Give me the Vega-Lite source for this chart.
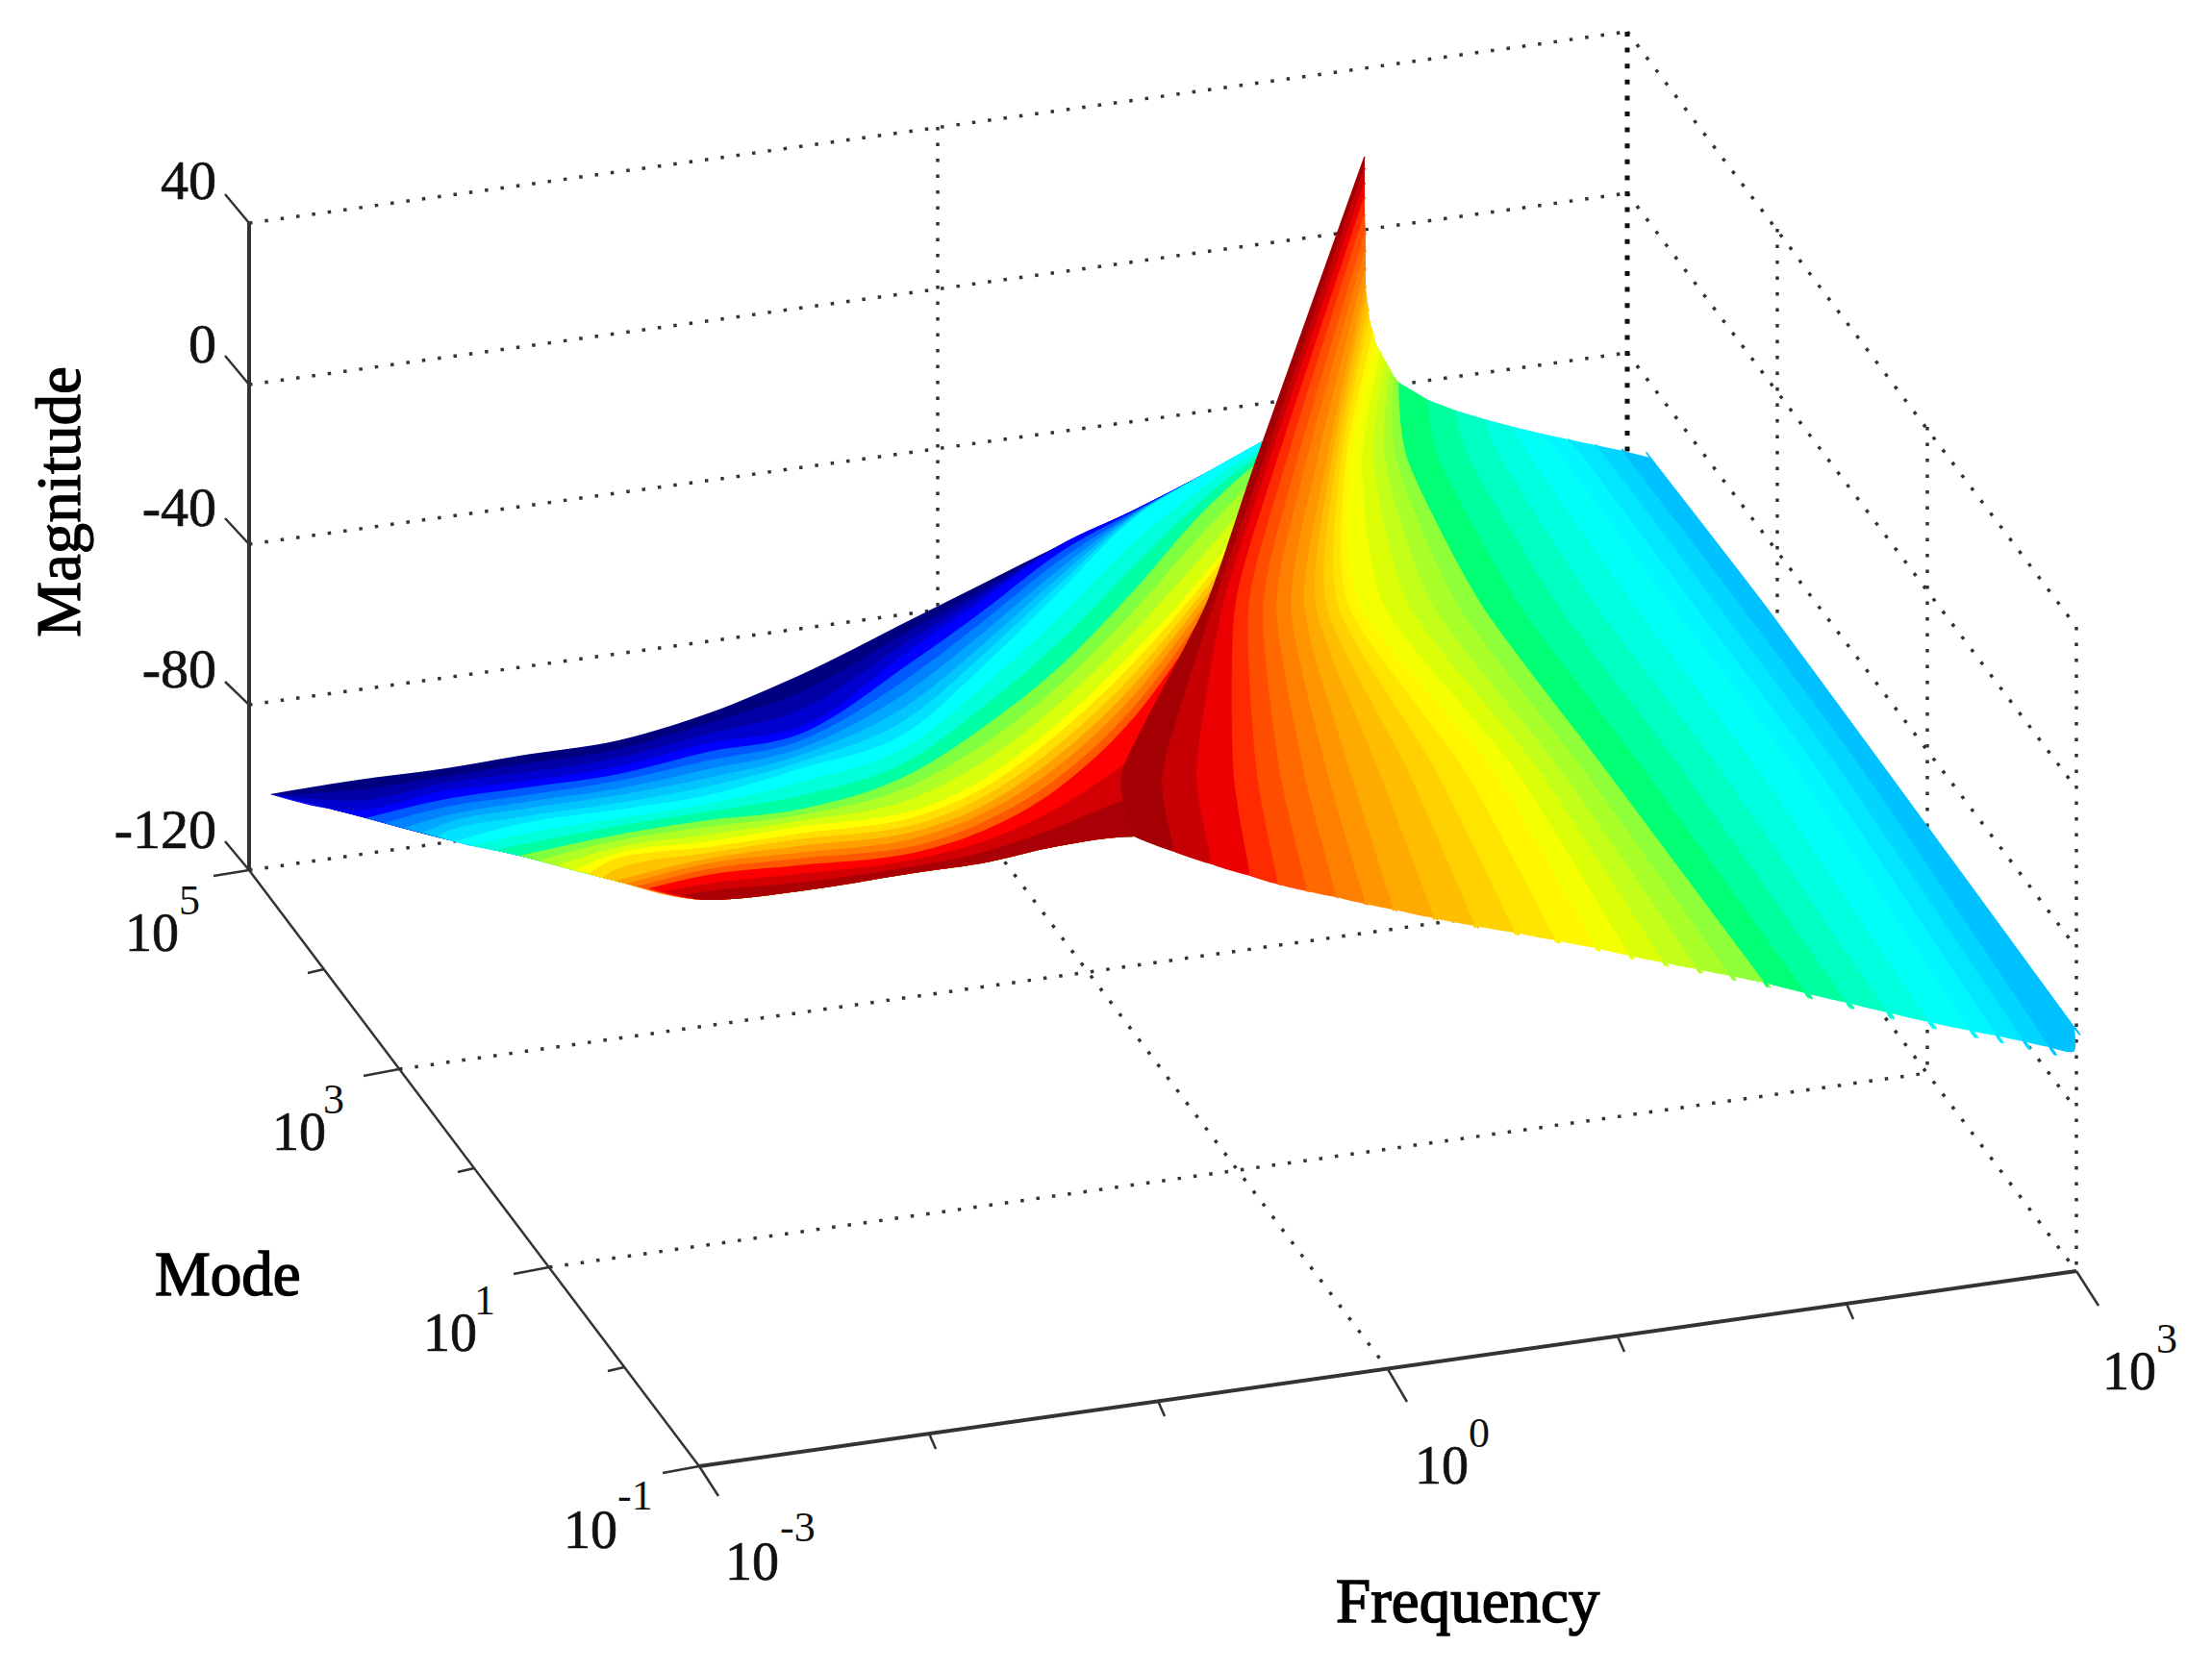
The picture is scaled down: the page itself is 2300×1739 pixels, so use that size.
{
"$schema":"https://vega.github.io/schema/vega-lite/v6.json",
"width":2300,"height":1739,"padding":0,
"autosize":{"type":"fit","contains":"padding"},
"background":"white",
"config":{"view":{"stroke":null}},
"datasets":{
"dotted":[
{"x":259,"y":232,"x2":1692,"y2":33},{"x":259,"y":400,"x2":1692,"y2":201},{"x":259,"y":566,"x2":1692,"y2":367},{"x":259,"y":733,"x2":1692,"y2":535},{"x":259,"y":905,"x2":1692,"y2":703},
{"x":1692,"y":33,"x2":2159,"y2":652},{"x":1692,"y":201,"x2":2159,"y2":820},{"x":1692,"y":367,"x2":2159,"y2":986},{"x":1692,"y":535,"x2":2159,"y2":1154},{"x":1692,"y":703,"x2":2159,"y2":1322},
{"x":975,"y":132,"x2":975,"y2":804},{"x":1848,"y":238,"x2":1848,"y2":910},{"x":2004,"y":444,"x2":2004,"y2":1116},{"x":2159,"y":652,"x2":2159,"y2":1322},
{"x":415,"y":1112,"x2":1848,"y2":910},{"x":571,"y":1318,"x2":2004,"y2":1116},{"x":975,"y":804,"x2":1443,"y2":1424}
],
"backEdge":[{"x":1692,"y":33,"x2":1692,"y2":703}],
"heavyAxes":[{"x":259,"y":232,"x2":259,"y2":905},{"x":727,"y":1525,"x2":2159,"y2":1322}],
"thinAxes":[{"x":259,"y":905,"x2":727,"y2":1525},
{"x":259,"y":232,"x2":234,"y2":202},{"x":259,"y":400,"x2":234,"y2":370},{"x":259,"y":566,"x2":234,"y2":539},{"x":259,"y":733,"x2":234,"y2":709},{"x":259,"y":905,"x2":234,"y2":875},
{"x":259,"y":905,"x2":222,"y2":911},{"x":415,"y":1112,"x2":378,"y2":1119},{"x":571,"y":1318,"x2":534,"y2":1325},{"x":727,"y":1525,"x2":689,"y2":1532},
{"x":337,"y":1008,"x2":320,"y2":1012},{"x":493,"y":1215,"x2":476,"y2":1219},{"x":649,"y":1422,"x2":632,"y2":1426},
{"x":727,"y":1525,"x2":747,"y2":1556},{"x":1443,"y":1424,"x2":1463,"y2":1458},{"x":2159,"y":1322,"x2":2182,"y2":1358},
{"x":966,"y":1491,"x2":973,"y2":1507},{"x":1204,"y":1457,"x2":1211,"y2":1473},{"x":1682,"y":1390,"x2":1689,"y2":1406},{"x":1920,"y":1356,"x2":1927,"y2":1372}
],
"magnitudeTicks":[{"label":"40","x":225,"y":190},{"label":"0","x":225,"y":360},{"label":"-40","x":225,"y":530},{"label":"-80","x":225,"y":698},{"label":"-120","x":225,"y":865}],
"bases":[{"label":"10","x":130,"y":989},{"label":"10","x":283,"y":1196},{"label":"10","x":440,"y":1405},{"label":"10","x":586,"y":1610},{"label":"10","x":754,"y":1643},{"label":"10","x":1471,"y":1543},{"label":"10","x":2186,"y":1445}],
"exponents":[{"label":"5","x":186,"y":951},{"label":"3","x":336,"y":1158},{"label":"1","x":493,"y":1367},{"label":"-1","x":642,"y":1570},{"label":"-3","x":811,"y":1603},{"label":"0","x":1527,"y":1505},{"label":"3","x":2242,"y":1407}],
"titles":[{"label":"Mode","x":161,"y":1347},{"label":"Frequency","x":1389,"y":1687}],
"sideTitle":[{"label":"Magnitude","x":83,"y":522}],
"wing":[
{"level":0,"x":281,"y":826,"y2":826},{"level":0,"x":366,"y":812,"y2":847},{"level":0,"x":464,"y":799,"y2":873},{"level":0,"x":540,"y":786,"y2":890},{"level":0,"x":643,"y":770,"y2":917},{"level":0,"x":736,"y":742,"y2":936},{"level":0,"x":830,"y":703,"y2":927},{"level":0,"x":950,"y":643,"y2":908},{"level":0,"x":1020,"y":608,"y2":898},{"level":0,"x":1100,"y":568,"y2":880},{"level":0,"x":1180,"y":530,"y2":870},{"level":0,"x":1250,"y":494,"y2":890},{"level":0,"x":1320,"y":455,"y2":905},
{"level":0.04,"x":281,"y":826,"y2":826},{"level":0.04,"x":366,"y":822,"y2":847},{"level":0.04,"x":464,"y":807,"y2":873},{"level":0.04,"x":540,"y":795,"y2":890},{"level":0.04,"x":643,"y":779,"y2":917},{"level":0.04,"x":736,"y":752,"y2":936},{"level":0.04,"x":830,"y":721,"y2":927},{"level":0.04,"x":950,"y":653,"y2":908},{"level":0.04,"x":1020,"y":614,"y2":898},{"level":0.04,"x":1100,"y":568,"y2":880},{"level":0.04,"x":1180,"y":530,"y2":870},{"level":0.04,"x":1250,"y":494,"y2":890},{"level":0.04,"x":1320,"y":455,"y2":905},
{"level":0.08,"x":281,"y":826,"y2":826},{"level":0.08,"x":366,"y":833,"y2":847},{"level":0.08,"x":464,"y":814,"y2":873},{"level":0.08,"x":540,"y":804,"y2":890},{"level":0.08,"x":643,"y":788,"y2":917},{"level":0.08,"x":736,"y":763,"y2":936},{"level":0.08,"x":830,"y":739,"y2":927},{"level":0.08,"x":950,"y":663,"y2":908},{"level":0.08,"x":1020,"y":619,"y2":898},{"level":0.08,"x":1100,"y":568,"y2":880},{"level":0.08,"x":1180,"y":530,"y2":870},{"level":0.08,"x":1250,"y":494,"y2":890},{"level":0.08,"x":1320,"y":455,"y2":905},
{"level":0.125,"x":281,"y":826,"y2":826},{"level":0.125,"x":366,"y":843,"y2":847},{"level":0.125,"x":464,"y":822,"y2":873},{"level":0.125,"x":540,"y":813,"y2":890},{"level":0.125,"x":643,"y":797,"y2":917},{"level":0.125,"x":736,"y":773,"y2":936},{"level":0.125,"x":830,"y":757,"y2":927},{"level":0.125,"x":950,"y":673,"y2":908},{"level":0.125,"x":1020,"y":625,"y2":898},{"level":0.125,"x":1100,"y":568,"y2":880},{"level":0.125,"x":1180,"y":530,"y2":870},{"level":0.125,"x":1250,"y":494,"y2":890},{"level":0.125,"x":1320,"y":455,"y2":905},
{"level":0.167,"x":380,"y":851,"y2":851},{"level":0.167,"x":464,"y":831,"y2":873},{"level":0.167,"x":540,"y":820,"y2":890},{"level":0.167,"x":643,"y":805,"y2":917},{"level":0.167,"x":736,"y":782,"y2":936},{"level":0.167,"x":830,"y":764,"y2":927},{"level":0.167,"x":950,"y":687,"y2":908},{"level":0.167,"x":1020,"y":637,"y2":898},{"level":0.167,"x":1100,"y":576,"y2":880},{"level":0.167,"x":1180,"y":531,"y2":870},{"level":0.167,"x":1250,"y":494,"y2":890},{"level":0.167,"x":1320,"y":455,"y2":905},
{"level":0.208,"x":400,"y":856,"y2":856},{"level":0.208,"x":464,"y":839,"y2":873},{"level":0.208,"x":540,"y":828,"y2":890},{"level":0.208,"x":643,"y":812,"y2":917},{"level":0.208,"x":736,"y":791,"y2":936},{"level":0.208,"x":830,"y":771,"y2":927},{"level":0.208,"x":950,"y":701,"y2":908},{"level":0.208,"x":1020,"y":648,"y2":898},{"level":0.208,"x":1100,"y":584,"y2":880},{"level":0.208,"x":1180,"y":533,"y2":870},{"level":0.208,"x":1250,"y":494,"y2":890},{"level":0.208,"x":1320,"y":455,"y2":905},
{"level":0.25,"x":420,"y":861,"y2":861},{"level":0.25,"x":464,"y":848,"y2":873},{"level":0.25,"x":540,"y":835,"y2":890},{"level":0.25,"x":643,"y":820,"y2":917},{"level":0.25,"x":736,"y":800,"y2":936},{"level":0.25,"x":830,"y":779,"y2":927},{"level":0.25,"x":950,"y":715,"y2":908},{"level":0.25,"x":1020,"y":660,"y2":898},{"level":0.25,"x":1100,"y":593,"y2":880},{"level":0.25,"x":1180,"y":534,"y2":870},{"level":0.25,"x":1250,"y":494,"y2":890},{"level":0.25,"x":1320,"y":455,"y2":905},
{"level":0.29,"x":440,"y":866,"y2":866},{"level":0.29,"x":464,"y":856,"y2":873},{"level":0.29,"x":540,"y":842,"y2":890},{"level":0.29,"x":643,"y":827,"y2":917},{"level":0.29,"x":736,"y":809,"y2":936},{"level":0.29,"x":830,"y":786,"y2":927},{"level":0.29,"x":950,"y":729,"y2":908},{"level":0.29,"x":1020,"y":672,"y2":898},{"level":0.29,"x":1100,"y":601,"y2":880},{"level":0.29,"x":1180,"y":535,"y2":870},{"level":0.29,"x":1250,"y":494,"y2":890},{"level":0.29,"x":1320,"y":455,"y2":905},
{"level":0.33,"x":455,"y":870,"y2":870},{"level":0.33,"x":464,"y":865,"y2":873},{"level":0.33,"x":540,"y":850,"y2":890},{"level":0.33,"x":643,"y":835,"y2":917},{"level":0.33,"x":736,"y":818,"y2":936},{"level":0.33,"x":830,"y":793,"y2":927},{"level":0.33,"x":950,"y":743,"y2":908},{"level":0.33,"x":1020,"y":683,"y2":898},{"level":0.33,"x":1100,"y":609,"y2":880},{"level":0.33,"x":1180,"y":537,"y2":870},{"level":0.33,"x":1250,"y":494,"y2":890},{"level":0.33,"x":1320,"y":455,"y2":905},
{"level":0.375,"x":473,"y":875,"y2":875},{"level":0.375,"x":540,"y":857,"y2":890},{"level":0.375,"x":643,"y":842,"y2":917},{"level":0.375,"x":736,"y":827,"y2":936},{"level":0.375,"x":830,"y":800,"y2":927},{"level":0.375,"x":950,"y":757,"y2":908},{"level":0.375,"x":1020,"y":695,"y2":898},{"level":0.375,"x":1100,"y":617,"y2":880},{"level":0.375,"x":1180,"y":538,"y2":870},{"level":0.375,"x":1250,"y":494,"y2":890},{"level":0.375,"x":1320,"y":455,"y2":905},
{"level":0.417,"x":490,"y":879,"y2":879},{"level":0.417,"x":540,"y":868,"y2":890},{"level":0.417,"x":643,"y":851,"y2":917},{"level":0.417,"x":736,"y":836,"y2":936},{"level":0.417,"x":830,"y":814,"y2":927},{"level":0.417,"x":950,"y":772,"y2":908},{"level":0.417,"x":1020,"y":716,"y2":898},{"level":0.417,"x":1100,"y":643,"y2":880},{"level":0.417,"x":1180,"y":563,"y2":870},{"level":0.417,"x":1250,"y":507,"y2":890},{"level":0.417,"x":1320,"y":460,"y2":905},
{"level":0.458,"x":515,"y":884,"y2":884},{"level":0.458,"x":540,"y":879,"y2":890},{"level":0.458,"x":643,"y":859,"y2":917},{"level":0.458,"x":736,"y":844,"y2":936},{"level":0.458,"x":830,"y":828,"y2":927},{"level":0.458,"x":950,"y":788,"y2":908},{"level":0.458,"x":1020,"y":737,"y2":898},{"level":0.458,"x":1100,"y":669,"y2":880},{"level":0.458,"x":1180,"y":588,"y2":870},{"level":0.458,"x":1250,"y":520,"y2":890},{"level":0.458,"x":1320,"y":465,"y2":905},
{"level":0.5,"x":540,"y":890,"y2":890},{"level":0.5,"x":643,"y":868,"y2":917},{"level":0.5,"x":736,"y":853,"y2":936},{"level":0.5,"x":830,"y":842,"y2":927},{"level":0.5,"x":950,"y":803,"y2":908},{"level":0.5,"x":1020,"y":758,"y2":898},{"level":0.5,"x":1100,"y":695,"y2":880},{"level":0.5,"x":1180,"y":613,"y2":870},{"level":0.5,"x":1250,"y":533,"y2":890},{"level":0.5,"x":1320,"y":470,"y2":905},
{"level":0.542,"x":560,"y":895,"y2":895},{"level":0.542,"x":643,"y":874,"y2":917},{"level":0.542,"x":736,"y":860,"y2":936},{"level":0.542,"x":830,"y":848,"y2":927},{"level":0.542,"x":950,"y":816,"y2":908},{"level":0.542,"x":1020,"y":776,"y2":898},{"level":0.542,"x":1100,"y":714,"y2":880},{"level":0.542,"x":1180,"y":634,"y2":870},{"level":0.542,"x":1250,"y":555,"y2":890},{"level":0.542,"x":1320,"y":483,"y2":905},
{"level":0.583,"x":579,"y":900,"y2":900},{"level":0.583,"x":643,"y":881,"y2":917},{"level":0.583,"x":736,"y":868,"y2":936},{"level":0.583,"x":830,"y":854,"y2":927},{"level":0.583,"x":950,"y":830,"y2":908},{"level":0.583,"x":1020,"y":794,"y2":898},{"level":0.583,"x":1100,"y":733,"y2":880},{"level":0.583,"x":1180,"y":656,"y2":870},{"level":0.583,"x":1250,"y":578,"y2":890},{"level":0.583,"x":1320,"y":497,"y2":905},
{"level":0.625,"x":598,"y":905,"y2":905},{"level":0.625,"x":643,"y":887,"y2":917},{"level":0.625,"x":736,"y":875,"y2":936},{"level":0.625,"x":830,"y":860,"y2":927},{"level":0.625,"x":950,"y":843,"y2":908},{"level":0.625,"x":1020,"y":812,"y2":898},{"level":0.625,"x":1100,"y":752,"y2":880},{"level":0.625,"x":1180,"y":677,"y2":870},{"level":0.625,"x":1250,"y":600,"y2":890},{"level":0.625,"x":1320,"y":510,"y2":905},
{"level":0.667,"x":612,"y":909,"y2":909},{"level":0.667,"x":643,"y":892,"y2":917},{"level":0.667,"x":736,"y":881,"y2":936},{"level":0.667,"x":830,"y":867,"y2":927},{"level":0.667,"x":950,"y":850,"y2":908},{"level":0.667,"x":1020,"y":821,"y2":898},{"level":0.667,"x":1100,"y":763,"y2":880},{"level":0.667,"x":1180,"y":688,"y2":870},{"level":0.667,"x":1250,"y":608,"y2":890},{"level":0.667,"x":1320,"y":518,"y2":905},
{"level":0.708,"x":626,"y":913,"y2":913},{"level":0.708,"x":643,"y":903,"y2":917},{"level":0.708,"x":736,"y":887,"y2":936},{"level":0.708,"x":830,"y":873,"y2":927},{"level":0.708,"x":950,"y":858,"y2":908},{"level":0.708,"x":1020,"y":830,"y2":898},{"level":0.708,"x":1100,"y":775,"y2":880},{"level":0.708,"x":1180,"y":700,"y2":870},{"level":0.708,"x":1250,"y":617,"y2":890},{"level":0.708,"x":1320,"y":527,"y2":905},
{"level":0.75,"x":640,"y":916,"y2":916},{"level":0.75,"x":736,"y":893,"y2":936},{"level":0.75,"x":830,"y":880,"y2":927},{"level":0.75,"x":950,"y":865,"y2":908},{"level":0.75,"x":1020,"y":839,"y2":898},{"level":0.75,"x":1100,"y":786,"y2":880},{"level":0.75,"x":1180,"y":711,"y2":870},{"level":0.75,"x":1250,"y":625,"y2":890},{"level":0.75,"x":1320,"y":535,"y2":905},
{"level":0.79,"x":652,"y":919,"y2":919},{"level":0.79,"x":736,"y":898,"y2":936},{"level":0.79,"x":830,"y":887,"y2":927},{"level":0.79,"x":950,"y":872,"y2":908},{"level":0.79,"x":1020,"y":847,"y2":898},{"level":0.79,"x":1100,"y":797,"y2":880},{"level":0.79,"x":1180,"y":722,"y2":870},{"level":0.79,"x":1250,"y":633,"y2":890},{"level":0.79,"x":1320,"y":543,"y2":905},
{"level":0.83,"x":663,"y":922,"y2":922},{"level":0.83,"x":736,"y":904,"y2":936},{"level":0.83,"x":830,"y":893,"y2":927},{"level":0.83,"x":950,"y":880,"y2":908},{"level":0.83,"x":1020,"y":856,"y2":898},{"level":0.83,"x":1100,"y":809,"y2":880},{"level":0.83,"x":1180,"y":734,"y2":870},{"level":0.83,"x":1250,"y":642,"y2":890},{"level":0.83,"x":1320,"y":552,"y2":905},
{"level":0.875,"x":674,"y":924,"y2":924},{"level":0.875,"x":736,"y":910,"y2":936},{"level":0.875,"x":830,"y":900,"y2":927},{"level":0.875,"x":950,"y":887,"y2":908},{"level":0.875,"x":1020,"y":865,"y2":898},{"level":0.875,"x":1100,"y":820,"y2":880},{"level":0.875,"x":1180,"y":745,"y2":870},{"level":0.875,"x":1250,"y":650,"y2":890},{"level":0.875,"x":1320,"y":560,"y2":905},
{"level":0.917,"x":690,"y":927,"y2":927},{"level":0.917,"x":736,"y":919,"y2":936},{"level":0.917,"x":830,"y":909,"y2":927},{"level":0.917,"x":950,"y":894,"y2":908},{"level":0.917,"x":1020,"y":876,"y2":898},{"level":0.917,"x":1100,"y":840,"y2":880},{"level":0.917,"x":1180,"y":787,"y2":870},{"level":0.917,"x":1250,"y":730,"y2":890},{"level":0.917,"x":1320,"y":675,"y2":905},
{"level":0.958,"x":710,"y":931,"y2":931},{"level":0.958,"x":736,"y":927,"y2":936},{"level":0.958,"x":830,"y":918,"y2":927},{"level":0.958,"x":950,"y":901,"y2":908},{"level":0.958,"x":1020,"y":887,"y2":898},{"level":0.958,"x":1100,"y":860,"y2":880},{"level":0.958,"x":1180,"y":828,"y2":870},{"level":0.958,"x":1250,"y":810,"y2":890},{"level":0.958,"x":1320,"y":790,"y2":905}
],
"ridge":[
{"level":0.9625,"ord":0,"x":1419,"y":163},{"level":0.9625,"ord":1,"x":1306,"y":480},{"level":0.9625,"ord":2,"x":1254,"y":630},{"level":0.9625,"ord":3,"x":1168,"y":800},{"level":0.9625,"ord":3.5,"x":1180,"y":862},{"level":0.9625,"ord":4,"x":1181,"y":870},{"level":0.9625,"ord":5,"x":1221,"y":885},{"level":0.9625,"ord":5.5,"x":1220,"y":877},{"level":0.9625,"ord":6,"x":1210,"y":800},{"level":0.9625,"ord":7,"x":1262,"y":630},{"level":0.9625,"ord":8,"x":1314,"y":480},{"level":0.9625,"ord":9,"x":1419,"y":175},
{"level":0.9275,"ord":0,"x":1419,"y":175},{"level":0.9275,"ord":1,"x":1314,"y":480},{"level":0.9275,"ord":2,"x":1262,"y":630},{"level":0.9275,"ord":3,"x":1210,"y":800},{"level":0.9275,"ord":3.5,"x":1220,"y":877},{"level":0.9275,"ord":4,"x":1221,"y":885},{"level":0.9275,"ord":5,"x":1260,"y":898},{"level":0.9275,"ord":5.5,"x":1259,"y":890},{"level":0.9275,"ord":6,"x":1245,"y":800},{"level":0.9275,"ord":7,"x":1272,"y":630},{"level":0.9275,"ord":8,"x":1320,"y":480},{"level":0.9275,"ord":9,"x":1419,"y":190},
{"level":0.8925,"ord":0,"x":1419,"y":190},{"level":0.8925,"ord":1,"x":1320,"y":480},{"level":0.8925,"ord":2,"x":1272,"y":630},{"level":0.8925,"ord":3,"x":1245,"y":800},{"level":0.8925,"ord":3.5,"x":1259,"y":890},{"level":0.8925,"ord":4,"x":1260,"y":898},{"level":0.8925,"ord":5,"x":1300,"y":910},{"level":0.8925,"ord":5.5,"x":1299,"y":902},{"level":0.8925,"ord":6,"x":1283,"y":800},{"level":0.8925,"ord":7,"x":1285,"y":630},{"level":0.8925,"ord":8,"x":1328,"y":480},{"level":0.8925,"ord":9,"x":1419,"y":205},
{"level":0.8625,"ord":0,"x":1419,"y":205},{"level":0.8625,"ord":1,"x":1328,"y":480},{"level":0.8625,"ord":2,"x":1285,"y":630},{"level":0.8625,"ord":3,"x":1283,"y":800},{"level":0.8625,"ord":3.5,"x":1299,"y":902},{"level":0.8625,"ord":4,"x":1300,"y":910},{"level":0.8625,"ord":5,"x":1330,"y":919},{"level":0.8625,"ord":5.5,"x":1328,"y":911},{"level":0.8625,"ord":6,"x":1307,"y":800},{"level":0.8625,"ord":7,"x":1299,"y":630},{"level":0.8625,"ord":8,"x":1338,"y":480},{"level":0.8625,"ord":9,"x":1419,"y":223},
{"level":0.8375,"ord":0,"x":1419,"y":223},{"level":0.8375,"ord":1,"x":1338,"y":480},{"level":0.8375,"ord":2,"x":1299,"y":630},{"level":0.8375,"ord":3,"x":1307,"y":800},{"level":0.8375,"ord":3.5,"x":1328,"y":911},{"level":0.8375,"ord":4,"x":1330,"y":919},{"level":0.8375,"ord":5,"x":1360,"y":926},{"level":0.8375,"ord":5.5,"x":1358,"y":918},{"level":0.8375,"ord":6,"x":1331,"y":800},{"level":0.8375,"ord":7,"x":1314,"y":630},{"level":0.8375,"ord":8,"x":1349,"y":480},{"level":0.8375,"ord":9,"x":1420,"y":242},
{"level":0.8125,"ord":0,"x":1420,"y":242},{"level":0.8125,"ord":1,"x":1349,"y":480},{"level":0.8125,"ord":2,"x":1314,"y":630},{"level":0.8125,"ord":3,"x":1331,"y":800},{"level":0.8125,"ord":3.5,"x":1358,"y":918},{"level":0.8125,"ord":4,"x":1360,"y":926},{"level":0.8125,"ord":5,"x":1390,"y":932},{"level":0.8125,"ord":5.5,"x":1388,"y":924},{"level":0.8125,"ord":6,"x":1356,"y":800},{"level":0.8125,"ord":7,"x":1328,"y":630},{"level":0.8125,"ord":8,"x":1359,"y":480},{"level":0.8125,"ord":9,"x":1420,"y":260},
{"level":0.7875,"ord":0,"x":1420,"y":260},{"level":0.7875,"ord":1,"x":1359,"y":480},{"level":0.7875,"ord":2,"x":1328,"y":630},{"level":0.7875,"ord":3,"x":1356,"y":800},{"level":0.7875,"ord":3.5,"x":1388,"y":924},{"level":0.7875,"ord":4,"x":1390,"y":932},{"level":0.7875,"ord":5,"x":1420,"y":939},{"level":0.7875,"ord":5.5,"x":1418,"y":931},{"level":0.7875,"ord":6,"x":1380,"y":800},{"level":0.7875,"ord":7,"x":1343,"y":630},{"level":0.7875,"ord":8,"x":1370,"y":480},{"level":0.7875,"ord":9,"x":1420,"y":279},
{"level":0.7625,"ord":0,"x":1420,"y":279},{"level":0.7625,"ord":1,"x":1370,"y":480},{"level":0.7625,"ord":2,"x":1343,"y":630},{"level":0.7625,"ord":3,"x":1380,"y":800},{"level":0.7625,"ord":3.5,"x":1418,"y":931},{"level":0.7625,"ord":4,"x":1420,"y":939},{"level":0.7625,"ord":5,"x":1450,"y":945},{"level":0.7625,"ord":5.5,"x":1447,"y":937},{"level":0.7625,"ord":6,"x":1404,"y":800},{"level":0.7625,"ord":7,"x":1357,"y":630},{"level":0.7625,"ord":8,"x":1380,"y":480},{"level":0.7625,"ord":9,"x":1420,"y":297},
{"level":0.7375,"ord":0,"x":1420,"y":297},{"level":0.7375,"ord":1,"x":1380,"y":480},{"level":0.7375,"ord":2,"x":1357,"y":630},{"level":0.7375,"ord":3,"x":1404,"y":800},{"level":0.7375,"ord":3.5,"x":1447,"y":937},{"level":0.7375,"ord":4,"x":1450,"y":945},{"level":0.7375,"ord":5,"x":1492,"y":954},{"level":0.7375,"ord":5.5,"x":1489,"y":946},{"level":0.7375,"ord":6,"x":1434,"y":800},{"level":0.7375,"ord":7,"x":1369,"y":630},{"level":0.7375,"ord":8,"x":1385,"y":480},{"level":0.7375,"ord":9,"x":1421,"y":309},
{"level":0.7125,"ord":0,"x":1421,"y":309},{"level":0.7125,"ord":1,"x":1385,"y":480},{"level":0.7125,"ord":2,"x":1369,"y":630},{"level":0.7125,"ord":3,"x":1434,"y":800},{"level":0.7125,"ord":3.5,"x":1489,"y":946},{"level":0.7125,"ord":4,"x":1492,"y":954},{"level":0.7125,"ord":5,"x":1534,"y":962},{"level":0.7125,"ord":5.5,"x":1531,"y":954},{"level":0.7125,"ord":6,"x":1464,"y":800},{"level":0.7125,"ord":7,"x":1380,"y":630},{"level":0.7125,"ord":8,"x":1390,"y":480},{"level":0.7125,"ord":9,"x":1423,"y":321},
{"level":0.6875,"ord":0,"x":1423,"y":321},{"level":0.6875,"ord":1,"x":1390,"y":480},{"level":0.6875,"ord":2,"x":1380,"y":630},{"level":0.6875,"ord":3,"x":1464,"y":800},{"level":0.6875,"ord":3.5,"x":1531,"y":954},{"level":0.6875,"ord":4,"x":1534,"y":962},{"level":0.6875,"ord":5,"x":1576,"y":969},{"level":0.6875,"ord":5.5,"x":1572,"y":961},{"level":0.6875,"ord":6,"x":1493,"y":800},{"level":0.6875,"ord":7,"x":1392,"y":630},{"level":0.6875,"ord":8,"x":1395,"y":480},{"level":0.6875,"ord":9,"x":1424,"y":333},
{"level":0.6625,"ord":0,"x":1424,"y":333},{"level":0.6625,"ord":1,"x":1395,"y":480},{"level":0.6625,"ord":2,"x":1392,"y":630},{"level":0.6625,"ord":3,"x":1493,"y":800},{"level":0.6625,"ord":3.5,"x":1572,"y":961},{"level":0.6625,"ord":4,"x":1576,"y":969},{"level":0.6625,"ord":5,"x":1618,"y":977},{"level":0.6625,"ord":5.5,"x":1614,"y":969},{"level":0.6625,"ord":6,"x":1523,"y":800},{"level":0.6625,"ord":7,"x":1403,"y":630},{"level":0.6625,"ord":8,"x":1400,"y":480},{"level":0.6625,"ord":9,"x":1428,"y":346},
{"level":0.6375,"ord":0,"x":1428,"y":346},{"level":0.6375,"ord":1,"x":1400,"y":480},{"level":0.6375,"ord":2,"x":1403,"y":630},{"level":0.6375,"ord":3,"x":1523,"y":800},{"level":0.6375,"ord":3.5,"x":1614,"y":969},{"level":0.6375,"ord":4,"x":1618,"y":977},{"level":0.6375,"ord":5,"x":1660,"y":985},{"level":0.6375,"ord":5.5,"x":1655,"y":977},{"level":0.6375,"ord":6,"x":1553,"y":800},{"level":0.6375,"ord":7,"x":1415,"y":630},{"level":0.6375,"ord":8,"x":1405,"y":480},{"level":0.6375,"ord":9,"x":1431,"y":358},
{"level":0.6125,"ord":0,"x":1431,"y":358},{"level":0.6125,"ord":1,"x":1405,"y":480},{"level":0.6125,"ord":2,"x":1415,"y":630},{"level":0.6125,"ord":3,"x":1553,"y":800},{"level":0.6125,"ord":3.5,"x":1655,"y":977},{"level":0.6125,"ord":4,"x":1660,"y":985},{"level":0.6125,"ord":5,"x":1695,"y":993},{"level":0.6125,"ord":5.5,"x":1690,"y":985},{"level":0.6125,"ord":6,"x":1576,"y":800},{"level":0.6125,"ord":7,"x":1440,"y":630},{"level":0.6125,"ord":8,"x":1417,"y":480},{"level":0.6125,"ord":9,"x":1436,"y":367},
{"level":0.5875,"ord":0,"x":1436,"y":367},{"level":0.5875,"ord":1,"x":1417,"y":480},{"level":0.5875,"ord":2,"x":1440,"y":630},{"level":0.5875,"ord":3,"x":1576,"y":800},{"level":0.5875,"ord":3.5,"x":1690,"y":985},{"level":0.5875,"ord":4,"x":1695,"y":993},{"level":0.5875,"ord":5,"x":1730,"y":1000},{"level":0.5875,"ord":5.5,"x":1725,"y":992},{"level":0.5875,"ord":6,"x":1600,"y":800},{"level":0.5875,"ord":7,"x":1466,"y":630},{"level":0.5875,"ord":8,"x":1429,"y":480},{"level":0.5875,"ord":9,"x":1441,"y":376},
{"level":0.5625,"ord":0,"x":1441,"y":376},{"level":0.5625,"ord":1,"x":1429,"y":480},{"level":0.5625,"ord":2,"x":1466,"y":630},{"level":0.5625,"ord":3,"x":1600,"y":800},{"level":0.5625,"ord":3.5,"x":1725,"y":992},{"level":0.5625,"ord":4,"x":1730,"y":1000},{"level":0.5625,"ord":5,"x":1765,"y":1007},{"level":0.5625,"ord":5.5,"x":1760,"y":999},{"level":0.5625,"ord":6,"x":1623,"y":800},{"level":0.5625,"ord":7,"x":1491,"y":630},{"level":0.5625,"ord":8,"x":1441,"y":480},{"level":0.5625,"ord":9,"x":1446,"y":385},
{"level":0.5375,"ord":0,"x":1446,"y":385},{"level":0.5375,"ord":1,"x":1441,"y":480},{"level":0.5375,"ord":2,"x":1491,"y":630},{"level":0.5375,"ord":3,"x":1623,"y":800},{"level":0.5375,"ord":3.5,"x":1760,"y":999},{"level":0.5375,"ord":4,"x":1765,"y":1007},{"level":0.5375,"ord":5,"x":1800,"y":1014},{"level":0.5375,"ord":5.5,"x":1794,"y":1006},{"level":0.5375,"ord":6,"x":1647,"y":800},{"level":0.5375,"ord":7,"x":1517,"y":630},{"level":0.5375,"ord":8,"x":1453,"y":480},{"level":0.5375,"ord":9,"x":1450,"y":392},
{"level":0.5125,"ord":0,"x":1450,"y":392},{"level":0.5125,"ord":1,"x":1453,"y":480},{"level":0.5125,"ord":2,"x":1517,"y":630},{"level":0.5125,"ord":3,"x":1647,"y":800},{"level":0.5125,"ord":3.5,"x":1794,"y":1006},{"level":0.5125,"ord":4,"x":1800,"y":1014},{"level":0.5125,"ord":5,"x":1835,"y":1021},{"level":0.5125,"ord":5.5,"x":1829,"y":1013},{"level":0.5125,"ord":6,"x":1670,"y":800},{"level":0.5125,"ord":7,"x":1542,"y":630},{"level":0.5125,"ord":8,"x":1465,"y":480},{"level":0.5125,"ord":9,"x":1455,"y":398},
{"level":0.4875,"ord":0,"x":1455,"y":398},{"level":0.4875,"ord":1,"x":1465,"y":480},{"level":0.4875,"ord":2,"x":1542,"y":630},{"level":0.4875,"ord":3,"x":1670,"y":800},{"level":0.4875,"ord":3.5,"x":1829,"y":1013},{"level":0.4875,"ord":4,"x":1835,"y":1021},{"level":0.4875,"ord":5,"x":1878,"y":1032},{"level":0.4875,"ord":5.5,"x":1872,"y":1024},{"level":0.4875,"ord":6,"x":1710,"y":800},{"level":0.4875,"ord":7,"x":1581,"y":630},{"level":0.4875,"ord":8,"x":1498,"y":480},{"level":0.4875,"ord":9,"x":1485,"y":416},
{"level":0.4625,"ord":0,"x":1485,"y":416},{"level":0.4625,"ord":1,"x":1498,"y":480},{"level":0.4625,"ord":2,"x":1581,"y":630},{"level":0.4625,"ord":3,"x":1710,"y":800},{"level":0.4625,"ord":3.5,"x":1872,"y":1024},{"level":0.4625,"ord":4,"x":1878,"y":1032},{"level":0.4625,"ord":5,"x":1921,"y":1042},{"level":0.4625,"ord":5.5,"x":1915,"y":1034},{"level":0.4625,"ord":6,"x":1749,"y":800},{"level":0.4625,"ord":7,"x":1621,"y":630},{"level":0.4625,"ord":8,"x":1530,"y":480},{"level":0.4625,"ord":9,"x":1514,"y":427},
{"level":0.4375,"ord":0,"x":1514,"y":427},{"level":0.4375,"ord":1,"x":1530,"y":480},{"level":0.4375,"ord":2,"x":1621,"y":630},{"level":0.4375,"ord":3,"x":1749,"y":800},{"level":0.4375,"ord":3.5,"x":1915,"y":1034},{"level":0.4375,"ord":4,"x":1921,"y":1042},{"level":0.4375,"ord":5,"x":1963,"y":1052},{"level":0.4375,"ord":5.5,"x":1957,"y":1044},{"level":0.4375,"ord":6,"x":1789,"y":800},{"level":0.4375,"ord":7,"x":1660,"y":630},{"level":0.4375,"ord":8,"x":1563,"y":480},{"level":0.4375,"ord":9,"x":1544,"y":436},
{"level":0.4125,"ord":0,"x":1544,"y":436},{"level":0.4125,"ord":1,"x":1563,"y":480},{"level":0.4125,"ord":2,"x":1660,"y":630},{"level":0.4125,"ord":3,"x":1789,"y":800},{"level":0.4125,"ord":3.5,"x":1957,"y":1044},{"level":0.4125,"ord":4,"x":1963,"y":1052},{"level":0.4125,"ord":5,"x":2006,"y":1062},{"level":0.4125,"ord":5.5,"x":2001,"y":1054},{"level":0.4125,"ord":6,"x":1828,"y":800},{"level":0.4125,"ord":7,"x":1700,"y":630},{"level":0.4125,"ord":8,"x":1595,"y":480},{"level":0.4125,"ord":9,"x":1574,"y":444},
{"level":0.3875,"ord":0,"x":1574,"y":444},{"level":0.3875,"ord":1,"x":1595,"y":480},{"level":0.3875,"ord":2,"x":1700,"y":630},{"level":0.3875,"ord":3,"x":1828,"y":800},{"level":0.3875,"ord":3.5,"x":2001,"y":1054},{"level":0.3875,"ord":4,"x":2006,"y":1062},{"level":0.3875,"ord":5,"x":2049,"y":1071},{"level":0.3875,"ord":5.5,"x":2044,"y":1063},{"level":0.3875,"ord":6,"x":1868,"y":800},{"level":0.3875,"ord":7,"x":1739,"y":630},{"level":0.3875,"ord":8,"x":1628,"y":480},{"level":0.3875,"ord":9,"x":1603,"y":451},
{"level":0.3625,"ord":0,"x":1603,"y":451},{"level":0.3625,"ord":1,"x":1628,"y":480},{"level":0.3625,"ord":2,"x":1739,"y":630},{"level":0.3625,"ord":3,"x":1868,"y":800},{"level":0.3625,"ord":3.5,"x":2044,"y":1063},{"level":0.3625,"ord":4,"x":2049,"y":1071},{"level":0.3625,"ord":5,"x":2076,"y":1076},{"level":0.3625,"ord":5.5,"x":2071,"y":1068},{"level":0.3625,"ord":6,"x":1891,"y":800},{"level":0.3625,"ord":7,"x":1763,"y":630},{"level":0.3625,"ord":8,"x":1651,"y":480},{"level":0.3625,"ord":9,"x":1631,"y":457},
{"level":0.3375,"ord":0,"x":1631,"y":457},{"level":0.3375,"ord":1,"x":1651,"y":480},{"level":0.3375,"ord":2,"x":1763,"y":630},{"level":0.3375,"ord":3,"x":1891,"y":800},{"level":0.3375,"ord":3.5,"x":2071,"y":1068},{"level":0.3375,"ord":4,"x":2076,"y":1076},{"level":0.3375,"ord":5,"x":2104,"y":1082},{"level":0.3375,"ord":5.5,"x":2099,"y":1074},{"level":0.3375,"ord":6,"x":1914,"y":800},{"level":0.3375,"ord":7,"x":1787,"y":630},{"level":0.3375,"ord":8,"x":1674,"y":480},{"level":0.3375,"ord":9,"x":1659,"y":463},
{"level":0.3125,"ord":0,"x":1659,"y":463},{"level":0.3125,"ord":1,"x":1674,"y":480},{"level":0.3125,"ord":2,"x":1787,"y":630},{"level":0.3125,"ord":3,"x":1914,"y":800},{"level":0.3125,"ord":3.5,"x":2099,"y":1074},{"level":0.3125,"ord":4,"x":2104,"y":1082},{"level":0.3125,"ord":5,"x":2131,"y":1088},{"level":0.3125,"ord":5.5,"x":2126,"y":1080},{"level":0.3125,"ord":6,"x":1937,"y":800},{"level":0.3125,"ord":7,"x":1811,"y":630},{"level":0.3125,"ord":8,"x":1696,"y":480},{"level":0.3125,"ord":9,"x":1688,"y":469},
{"level":0.285,"ord":0,"x":1688,"y":469},{"level":0.285,"ord":1,"x":1696,"y":480},{"level":0.285,"ord":2,"x":1811,"y":630},{"level":0.285,"ord":3,"x":1937,"y":800},{"level":0.285,"ord":3.5,"x":2126,"y":1080},{"level":0.285,"ord":4,"x":2131,"y":1088},{"level":0.285,"ord":5,"x":2156,"y":1093},{"level":0.285,"ord":6,"x":2156,"y":1068},{"level":0.285,"ord":6.5,"x":2151,"y":1061},{"level":0.285,"ord":7,"x":1960,"y":800},{"level":0.285,"ord":8,"x":1835,"y":630},{"level":0.285,"ord":9,"x":1719,"y":480},{"level":0.285,"ord":10,"x":1716,"y":476}
]
},
"encoding":{
"x":{"field":"x","type":"quantitative","scale":{"domain":[0,2300],"nice":false,"zero":false},"axis":null},
"y":{"field":"y","type":"quantitative","scale":{"domain":[1739,0],"nice":false,"zero":false},"axis":null}
},
"layer":[
{"data":{"name":"dotted"},"mark":{"type":"rule","color":"#333333","strokeWidth":3.5,"strokeDash":[3.5,13]},"encoding":{"x2":{"field":"x2"},"y2":{"field":"y2"}}},
{"data":{"name":"backEdge"},"mark":{"type":"rule","color":"#111111","strokeWidth":5,"strokeDash":[5,11.6]},"encoding":{"x2":{"field":"x2"},"y2":{"field":"y2"}}},
{"data":{"name":"wing"},"mark":{"type":"area","orient":"vertical","interpolate":"monotone"},
 "encoding":{"y":{"field":"y","type":"quantitative","stack":null},"y2":{"field":"y2"},"detail":{"field":"level"},
 "color":{"field":"level","type":"quantitative","legend":null,"scale":{"domain":[0,0.125,0.375,0.495,0.5,0.625,0.875,1],"range":["#00007f","#0000ff","#00ffff","#00ff66","#7fff3f","#ffff00","#ff0000","#7f0000"]}}}},
{"data":{"name":"ridge"},"mark":{"type":"line","filled":true,"strokeWidth":1.5,"strokeJoin":"round","interpolate":"cardinal","tension":0.3},
 "encoding":{"order":{"field":"ord"},"detail":{"field":"level"},
 "fill":{"field":"level","type":"quantitative","legend":null,"scale":{"domain":[0,0.125,0.375,0.495,0.5,0.625,0.875,1],"range":["#00007f","#0000ff","#00ffff","#00ff66","#7fff3f","#ffff00","#ff0000","#7f0000"]}},
 "stroke":{"field":"level","type":"quantitative","legend":null,"scale":{"domain":[0,0.125,0.375,0.495,0.5,0.625,0.875,1],"range":["#00007f","#0000ff","#00ffff","#00ff66","#7fff3f","#ffff00","#ff0000","#7f0000"]}}}},
{"data":{"name":"heavyAxes"},"mark":{"type":"rule","color":"#333333","strokeWidth":4},"encoding":{"x2":{"field":"x2"},"y2":{"field":"y2"}}},
{"data":{"name":"thinAxes"},"mark":{"type":"rule","color":"#333333","strokeWidth":2.5},"encoding":{"x2":{"field":"x2"},"y2":{"field":"y2"}}},
{"data":{"name":"magnitudeTicks"},"mark":{"type":"text","font":"Liberation Serif","fontSize":58,"align":"right","baseline":"middle","color":"#111111","stroke":"#111111","strokeWidth":0.7},"encoding":{"text":{"field":"label"}}},
{"data":{"name":"bases"},"mark":{"type":"text","font":"Liberation Serif","fontSize":56,"align":"left","baseline":"alphabetic","color":"#111111","stroke":"#111111","strokeWidth":0.7},"encoding":{"text":{"field":"label"}}},
{"data":{"name":"exponents"},"mark":{"type":"text","font":"Liberation Serif","fontSize":44,"align":"left","baseline":"alphabetic","color":"#111111"},"encoding":{"text":{"field":"label"}}},
{"data":{"name":"titles"},"mark":{"type":"text","font":"Liberation Serif","fontSize":65,"align":"left","baseline":"alphabetic","color":"#000000","stroke":"#000000","strokeWidth":1.5},"encoding":{"text":{"field":"label"}}},
{"data":{"name":"sideTitle"},"mark":{"type":"text","font":"Liberation Serif","fontSize":65,"align":"center","baseline":"alphabetic","angle":270,"color":"#000000","stroke":"#000000","strokeWidth":1.2},"encoding":{"text":{"field":"label"}}}
]
}
